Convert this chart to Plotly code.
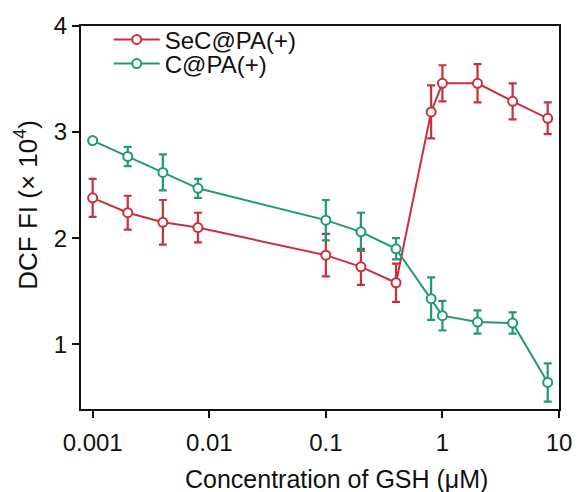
import plotly.graph_objects as go

conc = [0.001, 0.002, 0.004, 0.008, 0.1, 0.2, 0.4, 0.8, 1, 2, 4, 8]
sec_vals = [2.38, 2.24, 2.15, 2.10, 1.84, 1.73, 1.58, 3.19, 3.46, 3.46, 3.29, 3.13]
sec_err = [0.18, 0.16, 0.21, 0.14, 0.20, 0.17, 0.18, 0.25, 0.17, 0.18, 0.17, 0.15]
c_vals = [2.92, 2.77, 2.62, 2.47, 2.17, 2.06, 1.90, 1.43, 1.27, 1.21, 1.20, 0.64]
c_err = [0.02, 0.09, 0.17, 0.09, 0.19, 0.18, 0.10, 0.20, 0.14, 0.11, 0.10, 0.18]

x_ticks = [0.001, 0.01, 0.1, 1, 10]
x_ticklabels = ["0.001", "0.01", "0.1", "1", "10"]
y_ticks = [1, 2, 3, 4]
x_title = "Concentration of GSH (μM)"
y_title = "DCF FI (× 10<sup>4</sup>)"

RED = "#c8303c"
GREEN = "#1f9a72"
FONT = "Liberation Sans, Arial, sans-serif"

fig = go.Figure()
for name, vals, err, col, lg in [("SeC@PA(+)", sec_vals, sec_err, RED, "legend"),
                                 ("C@PA(+)", c_vals, c_err, GREEN, "legend2")]:
    fig.add_trace(go.Scatter(
        x=conc, y=vals, name=name, mode="lines+markers", legend=lg,
        line=dict(color=col, width=2),
        marker=dict(symbol="circle", size=9, color="white",
                    line=dict(color=col, width=2)),
        error_y=dict(type="data", array=err, visible=True,
                     color=col, thickness=2.2, width=4),
    ))

leg_common = dict(xanchor="left", yanchor="middle", bgcolor="rgba(0,0,0,0)",
                  font=dict(size=24), itemwidth=46, borderwidth=0)

fig.update_layout(
    width=584, height=492,
    margin=dict(l=81, r=20, t=20, b=83),
    paper_bgcolor="white", plot_bgcolor="white",
    font=dict(family=FONT, size=24, color="#111"),
    showlegend=True,
    legend=dict(x=0.058, y=0.964, **leg_common),
    legend2=dict(x=0.058, y=0.901, **leg_common),
    xaxis=dict(type="log", range=[-3.1, 1.0],
               tickvals=x_ticks, ticktext=x_ticklabels,
               ticks="outside", ticklen=7, tickwidth=2, tickcolor="#111",
               ticklabelstandoff=4,
               showline=True, linewidth=2, linecolor="#111", mirror=True,
               showgrid=False, zeroline=False,
               tickfont=dict(size=24)),
    yaxis=dict(range=[0.39, 4.0], tickvals=y_ticks,
               ticks="outside", ticklen=7, tickwidth=2, tickcolor="#111",
               showline=True, linewidth=2, linecolor="#111", mirror=True,
               showgrid=False, zeroline=False,
               tickfont=dict(size=24)),
    annotations=[
        dict(text=x_title, xref="paper", yref="paper", x=0.5352, y=-0.1825,
             xanchor="center", yanchor="middle", showarrow=False,
             font=dict(size=25)),
        dict(text=y_title, xref="paper", yref="paper", x=-0.114, y=0.532,
             xanchor="center", yanchor="middle", showarrow=False, textangle=-90,
             font=dict(size=26)),
    ],
)

fig.write_html("out.html")
